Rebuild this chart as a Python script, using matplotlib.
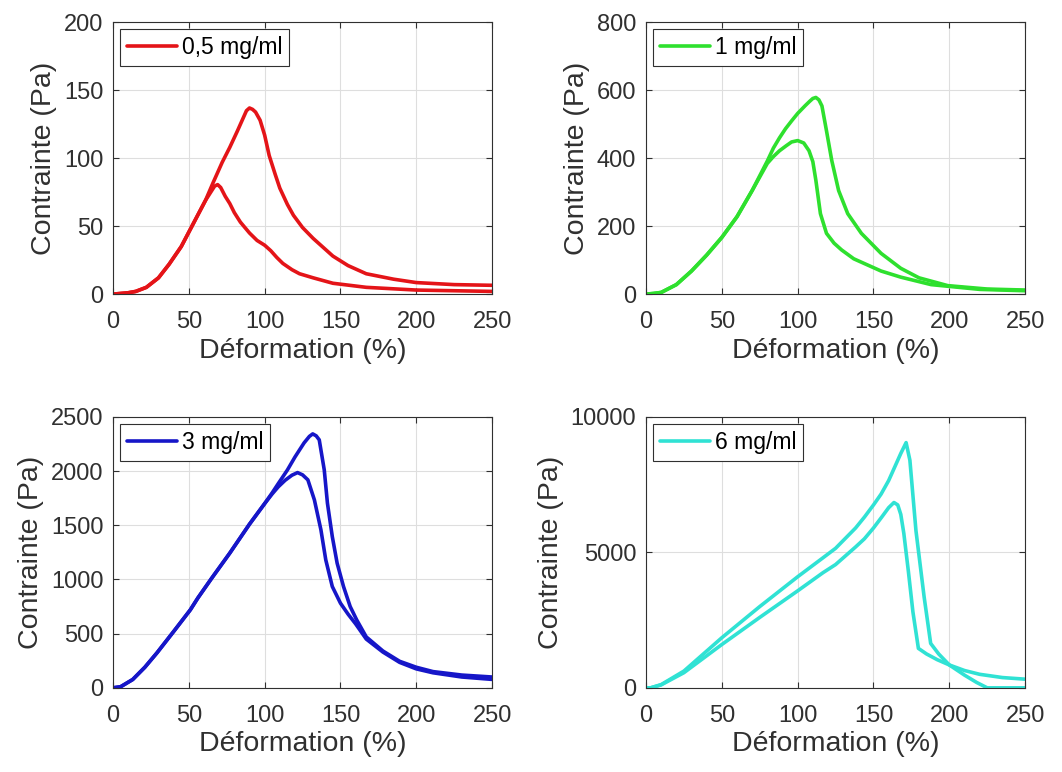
import matplotlib
matplotlib.use("Agg")
import matplotlib.pyplot as plt

plt.rcParams["font.family"] = ["Liberation Sans", "DejaVu Sans"]

# ======================
# Données
# ======================
labels = ["0,5 mg/ml", "1 mg/ml", "3 mg/ml", "6 mg/ml"]
colors = ["#e41418", "#2ee02e", "#1616c8", "#30e2d4"]
y_limits = [200, 800, 2500, 10000]
y_ticks = [
    [0, 50, 100, 150, 200],
    [0, 200, 400, 600, 800],
    [0, 500, 1000, 1500, 2000, 2500],
    [0, 5000, 10000],
]

# 0,5 mg/ml
x05_a = [0, 10, 15, 22, 30, 37, 45, 53, 61, 66, 72, 77, 82, 86, 88, 90, 92, 94, 97,
         100, 103, 107, 110, 115, 119, 125, 132, 140, 145, 155, 167, 185, 200, 225, 250]
y05_a = [0, 1, 2, 5, 12, 22, 35, 52, 69, 82, 97, 108, 120, 130, 135, 137, 136, 134, 128,
         117, 102, 88, 78, 66, 58, 49, 41, 33, 28, 21, 15, 11, 8.5, 7, 6.5]
x05_b = [0, 10, 15, 22, 30, 37, 45, 53, 61, 65, 67, 69, 71, 74, 77, 80, 84, 90, 95,
         100, 104, 108, 112, 118, 123, 132, 145, 167, 200, 250]
y05_b = [0, 1, 2, 5, 12, 22, 35, 52, 69, 76, 79.5, 80.6, 78.5, 72, 66.7, 60, 53, 45, 39.5,
         36, 32, 27, 22.6, 18, 15, 12, 8, 5, 3, 2]

# 1 mg/ml
x1_a = [0, 5, 10, 20, 30, 40, 50, 60, 70, 80, 84, 88, 92, 96, 100, 105, 108, 110, 112,
        114, 116, 119, 122.5, 127, 133, 142, 155, 168, 180, 199, 225, 250]
y1_a = [0, 2, 5, 28, 68, 115, 167, 228, 305, 392, 430, 460, 487, 510, 532, 555, 568, 576, 579,
        572, 554, 481, 393, 305, 237, 179, 120, 76, 48, 25, 15, 12]
x1_b = [0, 5, 10, 20, 30, 40, 50, 60, 70, 80, 84, 88, 92.5, 96, 100, 104, 107.5, 110,
        112, 115, 119, 124, 129, 137, 146, 155, 168, 188, 220, 250]
y1_b = [0, 2, 5, 28, 68, 115, 167, 228, 305, 385, 405, 422, 437, 448, 452, 445, 422, 390,
        335, 237, 179, 150, 130, 104, 86, 68, 50, 28, 14, 10]

# 3 mg/ml
x3_a = [0, 5, 13, 21, 29, 40, 51, 56, 65, 77, 90, 100, 105, 109, 115, 120, 126, 129.5,
        131.7, 134, 136, 139.3, 141.4, 144.6, 147.8, 152, 156.4, 160.7, 167, 178, 189,
        200, 211, 230, 250]
y3_a = [0, 10, 77, 190, 323, 520, 720, 830, 1010, 1243, 1510, 1700, 1800, 1885, 2010, 2130,
        2260, 2320, 2343, 2325, 2288, 2011, 1704, 1396, 1150, 935, 750, 627, 470, 340, 245,
        190, 150, 118, 100]
x3_b = [0, 5, 13, 21, 29, 40, 51, 56, 65, 77, 90, 100, 105, 109, 113.5, 118, 121.7, 125,
        128.5, 132.8, 137.1, 140.3, 144.6, 150, 155, 160, 167, 178, 189, 200, 211, 230, 250]
y3_b = [0, 10, 77, 190, 323, 520, 720, 830, 1010, 1243, 1510, 1700, 1790, 1855, 1915, 1962,
        1986, 1965, 1919, 1734, 1458, 1181, 935, 781, 680, 590, 450, 330, 235, 175, 139, 100, 78]

# 6 mg/ml
x6_a = [0, 3, 10, 25, 50, 75, 100, 116.7, 125, 138.2, 144, 150, 155, 160, 164, 168, 171.5,
        174, 178, 183.4, 187.7, 193, 200, 210, 218, 225, 250]
y6_a = [0, 0, 120, 620, 1850, 3000, 4100, 4800, 5150, 5900, 6300, 6750, 7150, 7650, 8150,
        8650, 9050, 8400, 5800, 3350, 1640, 1250, 845, 470, 200, 0, 0]
x6_b = [0, 3, 10, 25, 50, 75, 100, 116.7, 125, 138.2, 144, 150, 155.4, 160, 163.5, 166, 168,
        170, 173, 176, 179.6, 185, 192, 200, 210, 220, 235, 250]
y6_b = [0, 0, 110, 560, 1600, 2600, 3580, 4250, 4550, 5200, 5500, 5900, 6300, 6650, 6840,
        6750, 6400, 5700, 4300, 2800, 1457, 1250, 1040, 845, 640, 500, 380, 320]

curves = [
    [(x05_a, y05_a), (x05_b, y05_b)],
    [(x1_a, y1_a), (x1_b, y1_b)],
    [(x3_a, y3_a), (x3_b, y3_b)],
    [(x6_a, y6_a), (x6_b, y6_b)],
]

# position des axes (fractions de figure)
axes_pos = [
    [0.1064, 0.619, 0.357, 0.352],
    [0.6083, 0.619, 0.357, 0.352],
    [0.1064, 0.109, 0.357, 0.351],
    [0.6083, 0.109, 0.357, 0.351],
]

fig = plt.figure(figsize=(10.62, 7.72), dpi=100, facecolor="white")

for i in range(4):
    ax = fig.add_axes(axes_pos[i])
    for j, (xs, ys) in enumerate(curves[i]):
        ax.plot(xs, ys, color=colors[i], lw=2.6, solid_joinstyle="round",
                solid_capstyle="round", label=labels[i] if j == 0 else None)
    ax.set_xlim(0, 250)
    ax.set_ylim(0, y_limits[i])
    ax.set_xticks([0, 50, 100, 150, 200, 250])
    ax.set_yticks(y_ticks[i])
    ax.grid(True, color="#dedede", lw=0.8)
    ax.set_axisbelow(True)
    ax.tick_params(direction="in", labelsize=17, colors="#303030", length=4,
                   top=True, right=True)
    ax.tick_params(axis="x", pad=12.5)
    ax.tick_params(axis="y", pad=7)
    for sp in ax.spines.values():
        sp.set_color("#303030")
        sp.set_linewidth(0.8)
    ax.set_xlabel("Déformation (%)", fontsize=20.5, color="#303030", labelpad=3)
    ax.set_ylabel("Contrainte (Pa)", fontsize=20.5, color="#303030", labelpad=5)
    leg = ax.legend(loc="upper left", fontsize=16.5, fancybox=False, framealpha=1,
                    handlelength=2.2, handletextpad=0.2, borderpad=0.3,
                    borderaxespad=0.3)
    leg.get_frame().set_edgecolor("#303030")
    leg.get_frame().set_linewidth(0.8)

plt.savefig("out.png", dpi=100, facecolor="white")
